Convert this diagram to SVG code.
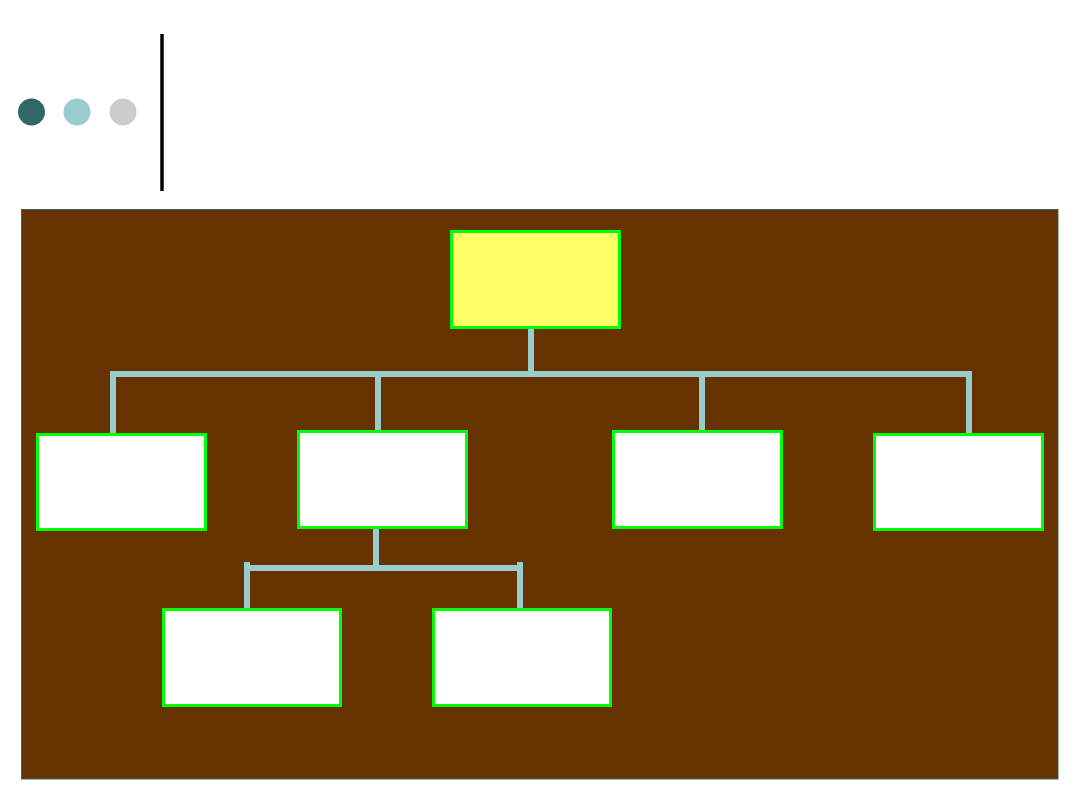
<svg xmlns="http://www.w3.org/2000/svg" width="1080" height="810" viewBox="0 0 1080 810">
<style>
.node{stroke:#00FF00;stroke-width:3}
.sub{fill:#FFFFFF}
.conn{stroke:#99CCCC;stroke-width:6;fill:none}
</style>
<rect x="0" y="0" width="1080" height="810" fill="#FFFFFF"/>
<g id="decor">
<circle cx="31.5" cy="112" r="13.5" fill="#336666"/>
<circle cx="77" cy="112" r="13.5" fill="#99CCCC"/>
<circle cx="123" cy="112" r="13.5" fill="#CCCCCC"/>
<line x1="162" y1="34" x2="162" y2="191" stroke="#000000" stroke-width="3.5"/>
</g>
<rect id="panel" x="21.5" y="209.5" width="1036.5" height="569.5" fill="#663300" stroke="#336666" stroke-width="1"/>
<g id="connectors">
<line class="conn" x1="531" y1="327" x2="531" y2="374"/>
<polyline class="conn" points="113,435 113,374 969,374 969,434"/>
<line class="conn" x1="378" y1="374" x2="378" y2="432"/>
<line class="conn" x1="702" y1="374" x2="702" y2="432"/>
<line class="conn" x1="376" y1="527" x2="376" y2="568"/>
<line class="conn" x1="244" y1="568" x2="523" y2="568"/>
<line class="conn" x1="247" y1="562" x2="247" y2="612"/>
<line class="conn" x1="520" y1="562" x2="520" y2="612"/>
</g>
<g id="node-top"><rect class="node" x="451.5" y="231.5" width="168" height="96" fill="#FFFF66"/></g>
<g id="node-a"><rect class="node sub" x="37.5" y="434.5" width="168" height="95"/></g>
<g id="node-b"><rect class="node sub" x="298.5" y="431.5" width="168" height="96"/></g>
<g id="node-c"><rect class="node sub" x="613.5" y="431.5" width="168" height="96"/></g>
<g id="node-d"><rect class="node sub" x="874.5" y="434.5" width="168" height="95"/></g>
<g id="node-e"><rect class="node sub" x="163.5" y="609.5" width="177" height="96"/></g>
<g id="node-f"><rect class="node sub" x="433.5" y="609.5" width="177" height="96"/></g>
</svg>
